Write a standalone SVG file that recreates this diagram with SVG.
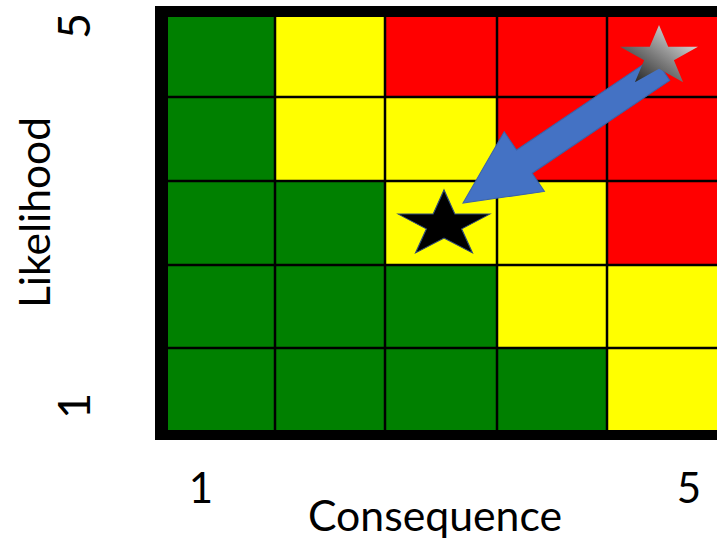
<svg xmlns="http://www.w3.org/2000/svg" width="717" height="540" viewBox="0 0 717 540">
  <style>
    .g { fill: #008000; }
    .y { fill: #FFFF00; }
    .r { fill: #FF0000; }
    .grid { stroke: #000; stroke-width: 2.5; fill: none; }
    .lbl { font-family: "Lato", "Open Sans", "Liberation Sans", sans-serif; font-size: 42px; fill: #000; }
    .num { font-size: 45px; }
  </style>
  <defs>
    <polygon id="star" points="0,-100 22.46,-30.9 95.1,-30.9 36.33,11.8 58.8,80.9 0,38.2 -58.8,80.9 -36.33,11.8 -95.1,-30.9 -22.46,-30.9"/>
    <linearGradient id="grayGrad" x1="0" y1="1" x2="1" y2="0">
      <stop offset="0.1" stop-color="#2a2a2a"/>
      <stop offset="0.45" stop-color="#7a7a7a"/>
      <stop offset="0.8" stop-color="#d0d0d0"/>
      <stop offset="1" stop-color="#e4e4e4"/>
    </linearGradient>
  </defs>
  <rect width="717" height="540" fill="#fff"/>

  <g id="matrix">
    <rect x="155" y="6" width="570" height="434" fill="#000"/>
    <!-- row 5 -->
    <rect class="g" x="168" y="17" width="107" height="80"/>
    <rect class="y" x="275" y="17" width="110" height="80"/>
    <rect class="r" x="385" y="17" width="112" height="80"/>
    <rect class="r" x="497" y="17" width="110" height="80"/>
    <rect class="r" x="607" y="17" width="110" height="80"/>
    <!-- row 4 -->
    <rect class="g" x="168" y="97" width="107" height="84"/>
    <rect class="y" x="275" y="97" width="110" height="84"/>
    <rect class="y" x="385" y="97" width="112" height="84"/>
    <rect class="r" x="497" y="97" width="110" height="84"/>
    <rect class="r" x="607" y="97" width="110" height="84"/>
    <!-- row 3 -->
    <rect class="g" x="168" y="181" width="107" height="84"/>
    <rect class="g" x="275" y="181" width="110" height="84"/>
    <rect class="y" x="385" y="181" width="112" height="84"/>
    <rect class="y" x="497" y="181" width="110" height="84"/>
    <rect class="r" x="607" y="181" width="110" height="84"/>
    <!-- row 2 -->
    <rect class="g" x="168" y="265" width="107" height="83"/>
    <rect class="g" x="275" y="265" width="110" height="83"/>
    <rect class="g" x="385" y="265" width="112" height="83"/>
    <rect class="y" x="497" y="265" width="110" height="83"/>
    <rect class="y" x="607" y="265" width="110" height="83"/>
    <!-- row 1 -->
    <rect class="g" x="168" y="348" width="107" height="82"/>
    <rect class="g" x="275" y="348" width="110" height="82"/>
    <rect class="g" x="385" y="348" width="112" height="82"/>
    <rect class="g" x="497" y="348" width="110" height="82"/>
    <rect class="y" x="607" y="348" width="110" height="82"/>
    <path class="grid" d="M275 17V430M385 17V430M497 17V430M607 17V430M168 97H717M168 181H717M168 265H717M168 348H717"/>
  </g>

  <g id="connectors">
    <polygon points="0,0 -74,36 -74,14 -240,14 -240,-14 -74,-14 -74,-36" transform="translate(463 203) rotate(146)" fill="#4472C4" stroke="#3A62AA" stroke-width="1"/>
  </g>

  <g id="star-current">
    <use href="#star" transform="translate(659 56.6) scale(0.41 0.316)" fill="url(#grayGrad)"/>
  </g>
  <g id="star-target">
    <use href="#star" transform="translate(444 224.8) scale(0.484 0.348)" fill="#000" stroke="#2F4A78" stroke-width="2.5" vector-effect="non-scaling-stroke"/>
  </g>

  <g id="labels">
    <text class="lbl num" x="90" y="26" text-anchor="middle" transform="rotate(-90 90 26)">5</text>
    <text class="lbl num" x="90" y="406" text-anchor="middle" transform="rotate(-90 90 406)">1</text>
    <text class="lbl" x="50" y="212.5" text-anchor="middle" transform="rotate(-90 50 212.5)" textLength="191" lengthAdjust="spacingAndGlyphs">Likelihood</text>
    <text class="lbl" x="201" y="503" text-anchor="middle">1</text>
    <text class="lbl" x="689" y="503" text-anchor="middle">5</text>
    <text class="lbl" x="435" y="531" text-anchor="middle" textLength="254" lengthAdjust="spacingAndGlyphs">Consequence</text>
  </g>
</svg>
